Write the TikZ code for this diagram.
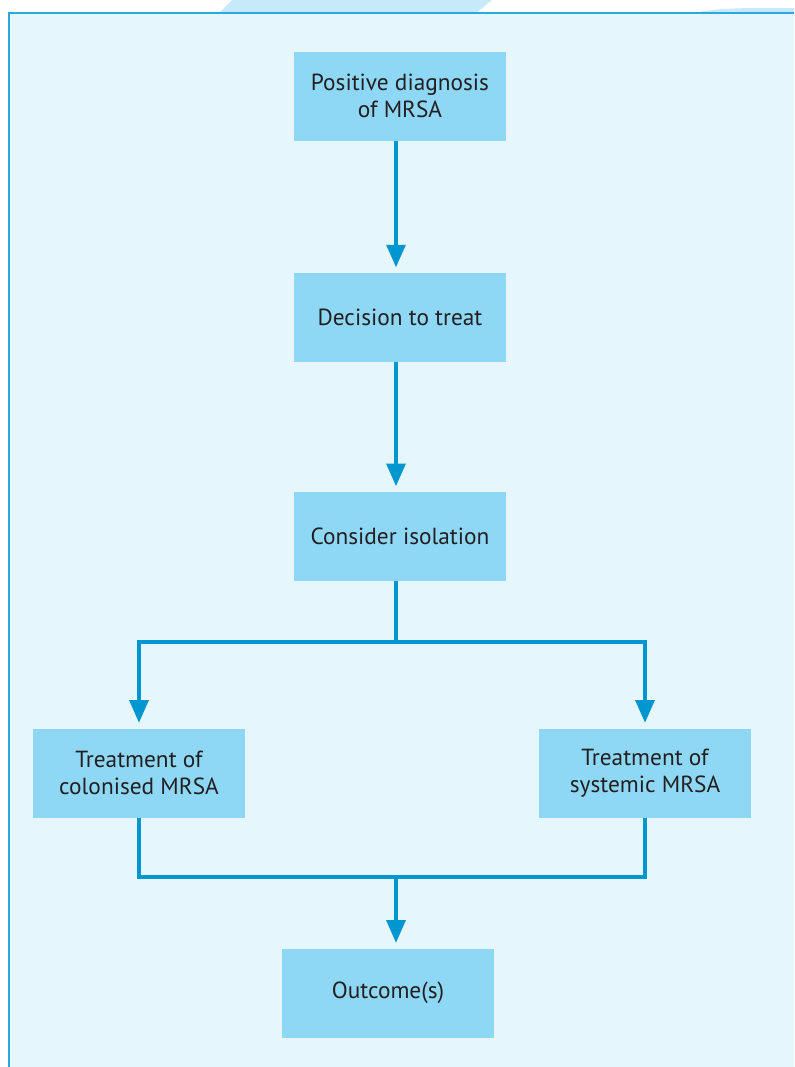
\documentclass[tikz,border=0pt]{standalone}
\usepackage{fontspec}
\setmainfont{PT Sans}
\usepackage{tikz}
\usetikzlibrary{arrows.meta, positioning}
\definecolor{panelfill}{HTML}{E6F6FD}
\definecolor{panelline}{HTML}{2AA9E0}
\definecolor{boxfill}{HTML}{8ED8F6}
\definecolor{flowline}{HTML}{0096CF}
\definecolor{tabfill}{HTML}{C6EAF9}
\definecolor{textgray}{HTML}{231F20}
\tikzstyle{stepbox} = [rectangle, minimum width=159pt, minimum height=66.75pt, text centered, align=center, fill=boxfill, text=textgray, font=\fontsize{17.5}{20}\selectfont]
\tikzstyle{line} = [draw=flowline, line width=3pt]
\tikzstyle{arrow} = [line, -{Triangle[width=14pt, length=17pt]}, shorten >=4pt]

\begin{document}
\begin{tikzpicture}[x=0.75pt, y=-0.75pt]
\useasboundingbox (0,0) rectangle (794,1067);

% Background panel
\fill[tabfill] (232,0) -- (492,0) -- (476,13) -- (219,13) -- cycle;
\fill[tabfill] (693,13) .. controls (712,9) and (735,8) .. (765,8) -- (794,8) -- (794,13) -- cycle;
\fill[panelfill] (9,13) rectangle (794,1067);
\draw[panelline, line width=1.2pt] (9,1067) -- (9,13) -- (794,13);

% Boxes
\node (diagnosis) [stepbox] at (400,96) {Positive diagnosis\\of MRSA};
\node (decision) [stepbox, below=99pt of diagnosis] {Decision to treat};
\node (isolation) [stepbox, below=97pt of decision] {Consider isolation};
\node (colonised) [stepbox] at (139,773) {Treatment of\\colonised MRSA};
\node (systemic) [stepbox] at (645,773) {Treatment of\\systemic MRSA};
\node (outcome) [stepbox] at (388,993) {Outcome(s)};

% Junctions
\coordinate (split) at (396,642);
\coordinate (merge) at (396,877);

% Arrows
\draw [arrow] (diagnosis.south -| split) -- (decision.north -| split);
\draw [arrow] (decision.south -| split) -- (isolation.north -| split);
\draw [line] (isolation.south -| split) -- (split);
\draw [arrow] (split) -| (colonised.north);
\draw [arrow] (split) -| (systemic.north);
\draw [line] (colonised.south) |- (merge);
\draw [line] (systemic.south) |- (merge);
\draw [arrow] (merge) -- (merge |- outcome.north);

\end{tikzpicture}
\end{document}
